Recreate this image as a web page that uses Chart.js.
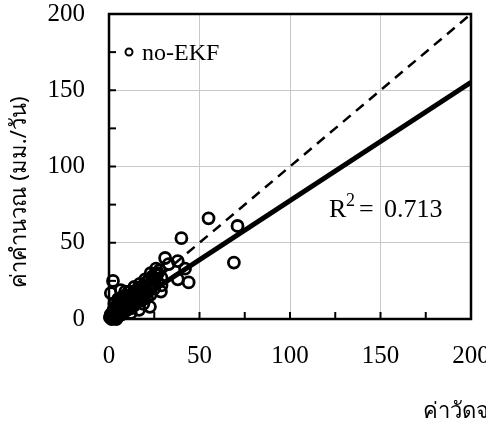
<!DOCTYPE html>
<html>
<head>
<meta charset="utf-8">
<script src="https://cdn.jsdelivr.net/npm/chart.js@4.4.1/dist/chart.umd.min.js"></script>
<style>
  body { margin: 0; background: #fff; }
  #wrap { width: 486px; height: 428px; }
</style>
</head>
<body>
<div id="wrap"><canvas id="myChart" width="486" height="428"></canvas></div>
<script>
// ค่าวัดจริง (มม./วัน)
const measured = [
    0.5, 1, 1.5, 2, 2, 2.5, 3, 3, 3.5, 4, 4, 4.5, 5, 5, 5.5, 6, 6, 6.5, 7, 7,
    7.5, 8, 8, 8.5, 9, 9, 9.5, 10, 10, 10.5, 11, 11, 11.5, 12, 12, 12.5, 13, 13, 13.5, 14,
    14, 14.5, 15, 15, 15.5, 16, 16, 16.5, 17, 17, 18, 18, 18.5, 19, 19, 20, 20, 20.5, 21, 21,
    22, 22, 23, 23, 24, 24, 25, 25, 26, 27, 28, 29,
    1, 2.2, 9, 22.6, 16.6, 4.4, 28.7, 29, 27, 25, 31, 38, 40, 42, 38, 44, 55, 71, 69, 6.5, 33,
    3, 5, 8, 11, 14, 17, 20, 23, 26, 12, 19
];
// ค่าคำนวณ (มม./วัน)
const calculated = [
    1, 3, 0, 4, 1, 6, 2, 5, 8, 3, 0, 6, 9, 4, 2, 7, 11, 5, 9, 3,
    12, 7, 10, 5, 11, 14, 8, 10, 6, 13, 9, 15, 11, 7, 13, 16, 10, 14, 12, 17,
    9, 15, 13, 19, 11, 16, 14, 20, 12, 18, 15, 21, 17, 13, 19, 16, 22, 18, 14, 24,
    19, 26, 21, 16, 23, 28, 20, 25, 29, 24, 32, 27,
    17, 25, 18, 8, 6, 1, 18, 22, 30, 27, 40, 38, 53, 33, 26, 24, 66, 61, 37, 19, 36,
    10, 13, 15, 18, 21, 23, 26, 30, 33, 4, 10
];
const axisTicks = [0, 50, 100, 150, 200];
const fitSlope = 0.776;
const r2 = "0.713";
const seriesName = "no-EKF";
const xTitle = "ค่าวัดจริง (มม./วัน)";
const yTitle = "ค่าคำนวณ (มม./วัน)";

const serif = "'Liberation Serif', 'Times New Roman', serif";
const thai = "'Noto Sans', 'DejaVu Sans', sans-serif";

let puntos = measured.map((v, i) => ({ x: v, y: calculated[i] }));
let maxV = axisTicks[axisTicks.length - 1];

// marco, ticks hacia adentro, leyenda y textos
const extras = {
    id: 'extras',
    afterDraw(chart) {
        const c = chart.ctx;
        const a = chart.chartArea;
        const sx = chart.scales.x;
        const sy = chart.scales.y;
        c.save();
        c.strokeStyle = '#000';
        c.lineWidth = 2;
        for (let v = 25; v < maxV; v += 25) {
            let px = sx.getPixelForValue(v);
            c.beginPath(); c.moveTo(px, a.bottom); c.lineTo(px, a.bottom - 7); c.stroke();
            let py = sy.getPixelForValue(v);
            c.beginPath(); c.moveTo(a.left, py); c.lineTo(a.left + 7, py); c.stroke();
        }
        c.lineWidth = 2.5;
        c.strokeRect(a.left, a.top, a.right - a.left, a.bottom - a.top);

        // leyenda
        c.lineWidth = 2;
        c.beginPath(); c.arc(129, 52, 3.5, 0, Math.PI * 2); c.stroke();
        c.fillStyle = '#000';
        c.font = '24px ' + serif;
        c.textBaseline = 'alphabetic';
        c.textAlign = 'left';
        c.fillText(seriesName, 142, 60);

        // R2
        c.font = '26px ' + serif;
        c.fillText('R', 329, 217);
        c.font = '18px ' + serif;
        c.fillText('2', 346, 206);
        c.font = '26px ' + serif;
        c.fillText('=', 359, 217);
        c.fillText(r2, 384, 217);

        // titulos
        c.font = '22px ' + thai;
        c.textBaseline = 'middle';
        c.fillText(xTitle, 423, 412);
        c.translate(20, 192);
        c.rotate(-Math.PI / 2);
        c.textAlign = 'center';
        c.fillText(yTitle, 0, 0);
        c.restore();
    }
};

function gridColor(ctx) {
    let v = ctx.tick ? ctx.tick.value : 0;
    return (v % 50 === 0 && v > 0 && v < maxV) ? '#c8c8c8' : 'rgba(0,0,0,0)';
}

function etiqueta(v) {
    return axisTicks.includes(v) ? v : '';
}

function sinRelleno(scale) {
    scale.paddingTop = 0;
    scale.paddingBottom = 0;
    scale.paddingLeft = 0;
    scale.paddingRight = 0;
}

let ctx = document.getElementById('myChart');
new Chart(ctx, {
    type: 'scatter',
    data: {
        datasets: [
            {
                label: 'fit',
                data: [{ x: 0, y: 0 }, { x: maxV, y: fitSlope * maxV }],
                showLine: true,
                borderColor: '#000',
                borderWidth: 5,
                pointRadius: 0
            },
            {
                label: '1:1',
                data: [{ x: 0, y: 0 }, { x: maxV, y: maxV }],
                showLine: true,
                borderColor: '#000',
                borderWidth: 2.5,
                borderDash: [10, 7],
                pointRadius: 0
            },
            {
                label: seriesName,
                data: puntos,
                borderColor: '#000',
                backgroundColor: 'rgba(0,0,0,0)',
                borderWidth: 2.8,
                pointRadius: 5.5,
                clip: false
            }
        ]
    },
    options: {
        responsive: false,
        animation: false,
        layout: { padding: { top: 14, right: 15, left: 0, bottom: 0 } },
        plugins: { legend: { display: false }, tooltip: { enabled: false } },
        scales: {
            x: {
                min: 0, max: maxV,
                border: { display: false },
                grid: { color: gridColor, lineWidth: 1, drawTicks: false },
                ticks: {
                    stepSize: 25, autoSkip: false, maxRotation: 0, padding: 22,
                    color: '#000', font: { family: serif, size: 25 },
                    callback: etiqueta
                },
                afterFit(scale) { scale.height = 109; sinRelleno(scale); }
            },
            y: {
                min: 0, max: maxV,
                border: { display: false },
                grid: { color: gridColor, lineWidth: 1, drawTicks: false },
                ticks: {
                    stepSize: 25, autoSkip: false, padding: 24,
                    color: '#000', font: { family: serif, size: 25 },
                    callback: etiqueta
                },
                afterFit(scale) { scale.width = 109; sinRelleno(scale); }
            }
        }
    },
    plugins: [extras]
});
</script>
</body>
</html>
